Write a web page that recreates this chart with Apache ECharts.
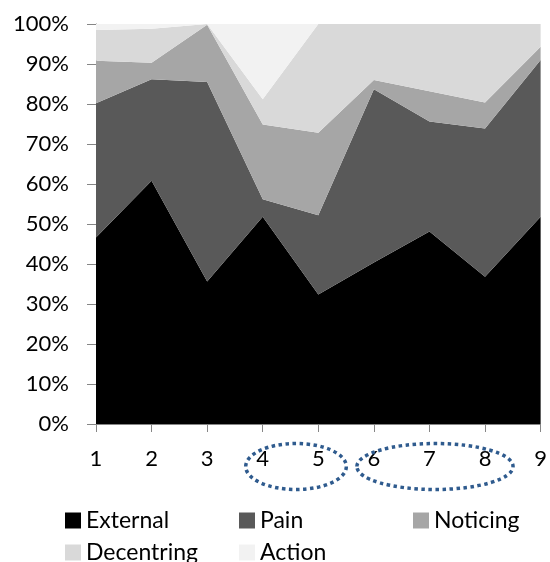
<!DOCTYPE html>
<html><head><meta charset="utf-8">
<script src="https://cdn.jsdelivr.net/npm/echarts@6/dist/echarts.min.js"></script>
<style>html,body{margin:0;padding:0;background:#fff}#c{width:550px;height:562px}</style>
</head><body><div id="c"></div>
<script>
var categories = ['1','2','3','4','5','6','7','8','9'];
var seriesNames = ['External','Pain','Noticing','Decentring','Action'];
var external   = [46.6, 60.8, 35.6, 51.8, 32.4, 40.4, 48.1, 36.8, 51.8];
var pain       = [33.6, 25.4, 49.9,  4.4, 19.8, 43.3, 27.5, 37.1, 39.2];
var noticing   = [10.6,  4.1, 14.3, 18.7, 20.6,  2.3,  7.6,  6.5,  3.3];
var decentring = [ 7.7,  8.5,  0.2,  6.3, 27.2, 14.0, 16.8, 19.6,  5.7];
var action     = [ 1.5,  1.2,  0.0, 18.8,  0.0,  0.0,  0.0,  0.0,  0.0];
var yTicks = [0,10,20,30,40,50,60,70,80,90,100];
var colors = ['#000000','#595959','#a6a6a6','#d9d9d9','#f2f2f2'];
var values = [external, pain, noticing, decentring, action];
var highlightGroups = [['4','5'],['6','8']];

var font = 'Lato';
var chart = echarts.init(document.getElementById('c'), null, {renderer:'canvas'});
function mkSeries(i){
  return {name: seriesNames[i], type:'line', stack:'total', data: values[i],
    symbol:'none', lineStyle:{width:0}, areaStyle:{color:colors[i], opacity:1},
    itemStyle:{color:colors[i]}, emphasis:{disabled:true}, silent:true};
}
var legendText = {fontFamily:font, fontSize:23, color:'#000', lineHeight:23};
var legendPos = {External:[65,509], Pain:[239,509], Noticing:[413,509], Decentring:[65,541], Action:[239,541]};
function mkLegend(name){
  return {data:[name], orient:'horizontal', left:legendPos[name][0], top:legendPos[name][1], padding:0,
    itemWidth:16, itemHeight:16, icon:'rect', textStyle:legendText, selectedMode:false};
}
chart.setOption({
  animation:false,
  backgroundColor:'#fff',
  color: colors,
  grid:{left:96, right:6, top:24, bottom:138},
  xAxis:{type:'category', data:categories, boundaryGap:false,
    axisLine:{lineStyle:{color:'#868686', width:1}},
    axisTick:{lineStyle:{color:'#868686'}, length:8, alignWithLabel:true},
    axisLabel:{fontFamily:font, fontSize:22, color:'#000', margin:24}},
  yAxis:{type:'value', min:0, max:100, interval:10,
    axisLine:{show:true, lineStyle:{color:'#868686', width:1}},
    axisTick:{show:true, length:9, lineStyle:{color:'#868686'}},
    splitLine:{show:false},
    axisLabel:{fontFamily:font, fontSize:22, color:'#000', margin:27,
      formatter:function(v){return yTicks.indexOf(v)>=0 ? v+'%' : '';}}},
  legend: seriesNames.map(mkLegend),
  series: seriesNames.map(function(_,i){return mkSeries(i);})
});
// dotted ellipses around category groups (annotations)
var gr = highlightGroups.map(function(g){
  var a = chart.convertToPixel({xAxisIndex:0}, g[0]);
  var b = chart.convertToPixel({xAxisIndex:0}, g[1]);
  var y0 = chart.convertToPixel({yAxisIndex:0}, 0);
  return {type:'ellipse', shape:{cx:(a+b)/2+5.5, cy:y0+42.5, rx:(b-a)/2+22.5, ry:23},
    style:{fill:null, stroke:'#2f5b8e', lineWidth:3.5, lineDash:[3.5,3.5]}, silent:true, z:100};
});
chart.setOption({graphic:gr});
</script></body></html>
